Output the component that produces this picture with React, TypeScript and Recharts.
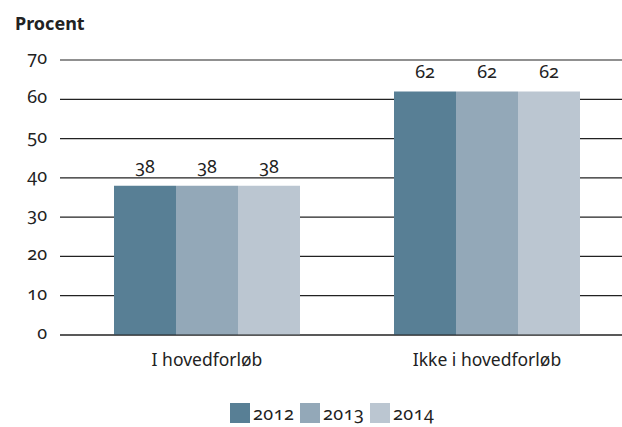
import { BarChart, Bar, XAxis, YAxis, CartesianGrid, Legend, LabelList } from 'recharts';

const categories = ['I hovedforløb', 'Ikke i hovedforløb'];
const years = ['2012', '2013', '2014'];
const values2012 = [38, 62];
const values2013 = [38, 62];
const values2014 = [38, 62];
const yTicks = [0, 10, 20, 30, 40, 50, 60, 70];

const colors = ['#587f95', '#93a8b8', '#bbc6d1'];

const data = categories.map((name, i) => ({
  name,
  '2012': values2012[i],
  '2013': values2013[i],
  '2014': values2014[i],
}));

const font = '"Noto Sans", "Open Sans", sans-serif';
const numStyle = { fontFamily: font, fontVariantNumeric: 'oldstyle-nums' as const };

function YTick(props: any) {
  const { x, y, payload } = props;
  return (
    <text x={x} y={y} dy={4} textAnchor="end" fill="#222" fontSize={18} style={numStyle}>
      {payload.value}
    </text>
  );
}

function LegendContent() {
  return (
    <div style={{ display: 'flex', paddingLeft: 230, paddingTop: 38 }}>
      {years.map((y, i) => (
        <div key={y} style={{ display: 'flex', alignItems: 'center', width: 70 }}>
          <div style={{ width: 20, height: 20, background: colors[i], marginRight: 3 }} />
          <span style={{ ...numStyle, fontSize: 18, lineHeight: '20px', color: '#222', letterSpacing: 0.5 }}>{y}</span>
        </div>
      ))}
    </div>
  );
}

export default function App() {
  return (
    <div style={{ position: 'absolute', left: 0, top: 0, width: 622, height: 427, overflow: 'hidden', background: '#fff' }}>
      <div style={{ position: 'absolute', left: 15, top: 11, fontFamily: font, fontWeight: 700, fontSize: 18, color: '#222' }}>
        Procent
      </div>
      <BarChart
        width={640}
        height={427}
        data={data}
        margin={{ top: 60, right: 13, bottom: 0, left: 0 }}
        barCategoryGap={47}
        barGap={0}
      >
        <CartesianGrid vertical={false} stroke="#222" strokeWidth={1.2} />
        <XAxis
          dataKey="name"
          axisLine={{ stroke: '#222', strokeWidth: 1.2 }}
          tickLine={false}
          padding={{ left: 7, right: 0 }}
          height={30}
          tick={{ fontFamily: font, fontSize: 17.5, fill: '#222' }}
          tickMargin={13}
        />
        <YAxis
          domain={[0, 70]}
          ticks={yTicks}
          width={60}
          axisLine={false}
          tickLine={false}
          tickMargin={7}
          tick={<YTick />}
        />
        <Legend verticalAlign="bottom" content={<LegendContent />} wrapperStyle={{ height: 62 }} />
        {years.map((y, i) => (
          <Bar key={y} dataKey={y} fill={colors[i]} isAnimationActive={false}>
            <LabelList
              dataKey={y}
              position="top"
              offset={13}
              style={{ ...numStyle, fontSize: 18, fill: '#222' }}
            />
          </Bar>
        ))}
      </BarChart>
    </div>
  );
}
